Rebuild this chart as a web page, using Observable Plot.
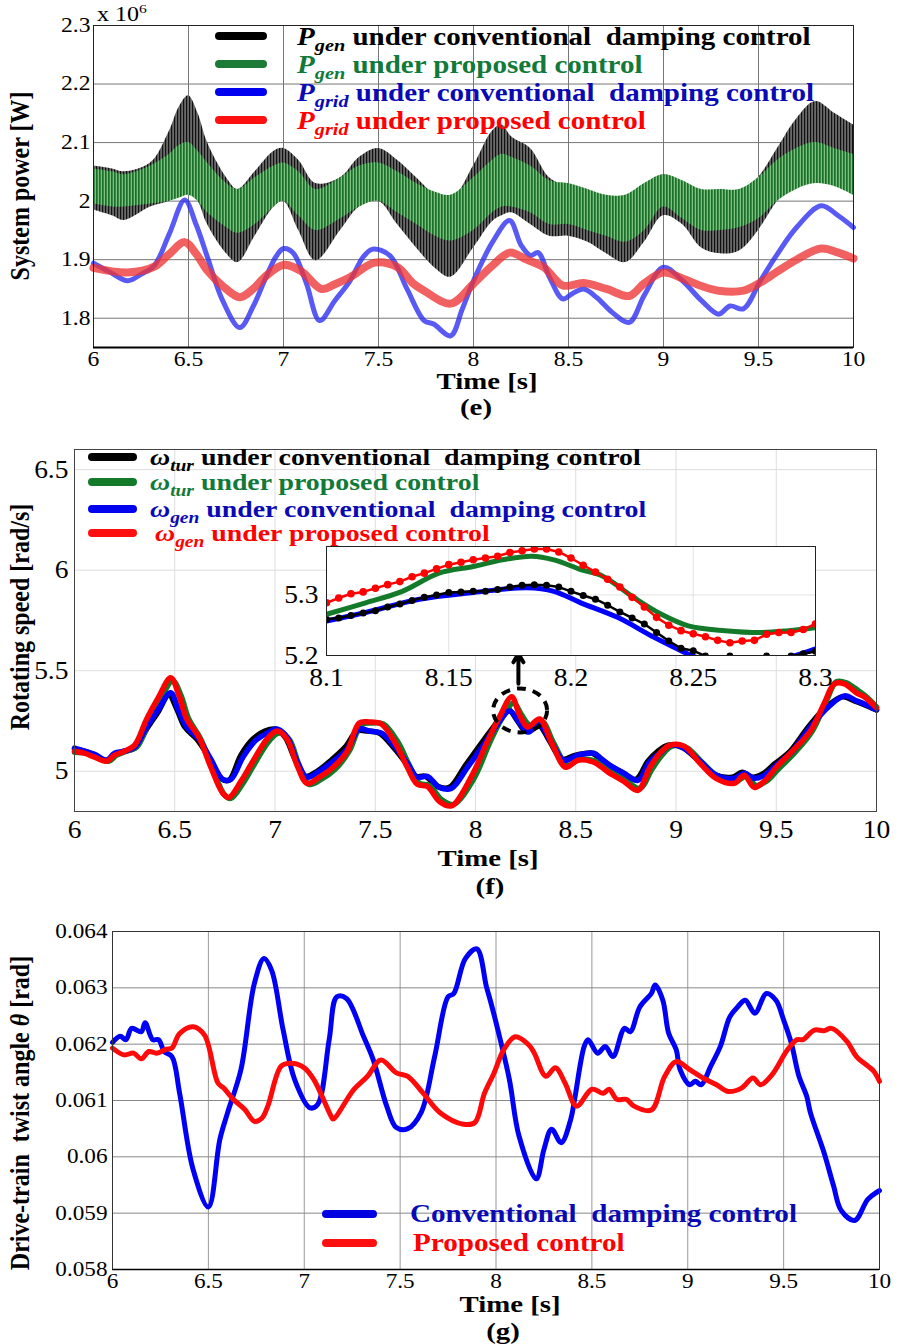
<!DOCTYPE html>
<html><head><meta charset="utf-8">
<script src="https://cdn.jsdelivr.net/npm/d3@7"></script>
<script src="https://cdn.jsdelivr.net/npm/@observablehq/plot@0.6"></script>
<style>
body{margin:0;background:#fff;}
#root{position:relative;width:899px;height:1344px;overflow:hidden;font-family:"Liberation Serif","DejaVu Serif","Noto Serif",Times,serif;background:#fff;}
#root svg, #root svg text{font-family:"Liberation Serif","DejaVu Serif","Noto Serif",Times,serif !important;}
.pw{position:absolute;left:0;}
.lbl{position:absolute;font-weight:bold;white-space:nowrap;transform:translate(-50%,-50%) scaleX(1.2);line-height:1;}
.ylbl{position:absolute;font-weight:bold;white-space:nowrap;transform:translate(-50%,-50%) rotate(-90deg) scaleY(1.15);line-height:1;}
.leg{position:absolute;font-weight:bold;white-space:nowrap;line-height:1;transform-origin:0 50%;}
.sw{position:absolute;border-radius:4px;}
.leg sub{font-size:0.7em;vertical-align:-0.35em;line-height:0;}
</style></head><body><div id="root"></div>
<script>
// ---------- shared ----------
const xTicks = [6, 6.5, 7, 7.5, 8, 8.5, 9, 9.5, 10];

// ---------- panel (e): system power (x 10^6 W) ----------
const eTicksY = [1.8, 1.9, 2, 2.1, 2.2, 2.3];
const eBandT = [6.0,6.1,6.16,6.3,6.4,6.45,6.5,6.55,6.6,6.7,6.76,6.85,6.95,7.0,7.08,7.17,7.3,7.4,7.5,7.6,7.7,7.8,7.88,8.0,8.1,8.15,8.2,8.3,8.4,8.5,8.6,8.7,8.8,8.9,9.0,9.1,9.2,9.3,9.4,9.5,9.6,9.7,9.8,9.9,10.0];
const ePgenConvHi = [2.06,2.055,2.05,2.065,2.12,2.16,2.18,2.15,2.10,2.04,2.02,2.05,2.085,2.09,2.07,2.03,2.04,2.075,2.09,2.07,2.04,2.01,2.0,2.06,2.12,2.13,2.11,2.09,2.04,2.025,2.02,2.0,1.995,2.02,2.045,2.03,2.015,2.005,2.01,2.04,2.09,2.14,2.17,2.15,2.13];
const ePgenConvLo = [1.985,1.975,1.967,1.99,2.0,2.01,2.015,2.0,1.96,1.91,1.895,1.94,1.99,2.0,1.95,1.898,1.95,1.99,2.0,1.96,1.92,1.885,1.87,1.92,1.965,1.975,1.98,1.96,1.94,1.94,1.93,1.91,1.895,1.93,1.975,1.96,1.92,1.91,1.915,1.95,2.0,2.035,2.05,2.04,2.03];
const ePgenPropHi = [2.055,2.05,2.045,2.06,2.08,2.095,2.10,2.085,2.065,2.03,2.02,2.04,2.06,2.065,2.05,2.02,2.04,2.06,2.065,2.05,2.03,2.015,2.01,2.04,2.07,2.08,2.075,2.06,2.035,2.03,2.02,2.01,2.01,2.03,2.045,2.035,2.02,2.02,2.02,2.04,2.07,2.09,2.10,2.09,2.08];
const ePgenPropLo = [1.995,1.99,1.99,1.995,2.0,2.005,2.01,2.0,1.98,1.955,1.945,1.96,1.99,2.0,1.975,1.95,1.97,1.99,2.0,1.98,1.96,1.94,1.932,1.95,1.98,1.99,1.99,1.98,1.96,1.96,1.95,1.94,1.93,1.95,1.99,1.97,1.95,1.95,1.955,1.97,2.0,2.02,2.03,2.025,2.01];
const ePgridConvT = [6.0,6.08,6.18,6.25,6.32,6.4,6.48,6.54,6.6,6.68,6.77,6.84,6.9,6.96,7.0,7.05,7.12,7.19,7.27,7.35,7.42,7.47,7.56,7.65,7.74,7.79,7.88,7.94,8.0,8.1,8.19,8.25,8.3,8.34,8.4,8.47,8.52,8.58,8.65,8.73,8.82,8.9,9.0,9.1,9.2,9.29,9.35,9.42,9.51,9.6,9.7,9.83,9.92,10.0];
const ePgridConvP = [1.894,1.880,1.864,1.875,1.890,1.945,2.002,1.96,1.904,1.83,1.784,1.82,1.864,1.905,1.919,1.912,1.86,1.796,1.83,1.864,1.905,1.918,1.907,1.85,1.796,1.79,1.77,1.815,1.864,1.93,1.967,1.925,1.907,1.912,1.87,1.833,1.842,1.850,1.835,1.81,1.793,1.84,1.887,1.864,1.83,1.807,1.821,1.816,1.864,1.91,1.955,1.992,1.975,1.955];
const ePgridPropT = [6.0,6.18,6.32,6.4,6.48,6.54,6.6,6.68,6.77,6.84,6.9,7.0,7.09,7.2,7.27,7.35,7.48,7.6,7.68,7.74,7.88,8.0,8.1,8.19,8.28,8.37,8.47,8.58,8.7,8.82,8.9,9.0,9.1,9.2,9.29,9.42,9.51,9.6,9.7,9.83,9.92,10.0];
const ePgridPropP = [1.886,1.878,1.888,1.91,1.930,1.91,1.881,1.855,1.836,1.85,1.870,1.891,1.881,1.850,1.858,1.870,1.895,1.887,1.86,1.847,1.825,1.859,1.89,1.912,1.90,1.887,1.856,1.860,1.85,1.838,1.86,1.878,1.868,1.855,1.847,1.847,1.861,1.88,1.90,1.919,1.912,1.902];

// ---------- panel (f): rotating speed (rad/s) ----------
const fTicksY = [5, 5.5, 6, 6.5];
const fTurConvT = [6.00,6.05,6.10,6.16,6.20,6.25,6.30,6.36,6.42,6.47,6.51,6.55,6.61,6.67,6.73,6.77,6.83,6.89,6.95,7.00,7.05,7.10,7.15,7.21,7.28,7.35,7.41,7.46,7.52,7.59,7.65,7.70,7.75,7.81,7.87,7.95,8.03,8.09,8.16,8.21,8.25,8.31,8.37,8.43,8.50,8.58,8.62,8.66,8.73,8.80,8.86,8.91,8.96,9.03,9.11,9.19,9.28,9.33,9.38,9.43,9.49,9.57,9.66,9.75,9.83,9.89,9.93,10.0];
const fTurConvW = [5.11,5.10,5.08,5.055,5.085,5.10,5.115,5.21,5.30,5.38,5.31,5.22,5.16,5.07,4.965,4.955,5.08,5.16,5.20,5.21,5.17,5.06,4.975,5.00,5.055,5.12,5.20,5.20,5.19,5.12,5.045,4.975,4.975,4.925,4.92,5.03,5.14,5.22,5.31,5.25,5.20,5.235,5.15,5.06,5.08,5.09,5.065,5.035,4.995,4.96,5.05,5.10,5.13,5.12,5.055,4.985,4.97,4.995,4.97,4.985,5.035,5.10,5.22,5.32,5.37,5.35,5.335,5.305];
const fTurPropT = [6.00,6.06,6.10,6.17,6.21,6.26,6.31,6.37,6.43,6.49,6.53,6.57,6.63,6.69,6.75,6.78,6.84,6.90,6.97,7.02,7.07,7.12,7.17,7.23,7.30,7.37,7.43,7.48,7.54,7.61,7.67,7.72,7.77,7.83,7.89,7.99,8.07,8.13,8.19,8.23,8.27,8.33,8.39,8.46,8.52,8.60,8.64,8.67,8.75,8.82,8.88,8.93,8.98,9.05,9.13,9.21,9.30,9.35,9.40,9.45,9.51,9.59,9.68,9.75,9.80,9.85,9.91,9.95,10.0];
const fTurPropW = [5.095,5.09,5.075,5.05,5.08,5.10,5.12,5.24,5.36,5.45,5.38,5.26,5.16,5.01,4.88,4.865,4.94,5.04,5.15,5.19,5.16,5.03,4.935,4.96,5.01,5.10,5.23,5.24,5.235,5.15,5.03,4.94,4.93,4.86,4.835,4.96,5.14,5.26,5.34,5.28,5.23,5.25,5.14,5.03,5.06,5.05,5.03,5.005,4.955,4.915,5.01,5.08,5.125,5.12,5.045,4.975,4.95,4.975,4.93,4.95,5.01,5.09,5.20,5.35,5.445,5.44,5.40,5.37,5.32];
const fGenConvT = [6.00,6.05,6.10,6.16,6.20,6.25,6.30,6.36,6.42,6.48,6.52,6.56,6.62,6.68,6.74,6.78,6.84,6.90,6.96,7.01,7.06,7.11,7.16,7.22,7.29,7.36,7.42,7.47,7.53,7.60,7.66,7.71,7.76,7.82,7.88,7.96,8.04,8.10,8.17,8.22,8.26,8.32,8.38,8.44,8.51,8.59,8.63,8.67,8.74,8.81,8.87,8.92,8.97,9.04,9.12,9.20,9.29,9.34,9.39,9.44,9.50,9.58,9.67,9.76,9.84,9.90,9.94,10.0];
const fGenConvW = [5.115,5.10,5.085,5.055,5.09,5.10,5.12,5.22,5.31,5.39,5.30,5.22,5.16,5.06,4.96,4.96,5.07,5.15,5.19,5.21,5.17,5.05,4.97,5.00,5.05,5.11,5.21,5.20,5.19,5.12,5.04,4.97,4.975,4.92,4.915,5.02,5.13,5.22,5.30,5.24,5.195,5.23,5.14,5.055,5.08,5.09,5.06,5.03,4.99,4.955,5.05,5.09,5.13,5.115,5.05,4.98,4.965,4.99,4.965,4.98,5.03,5.10,5.22,5.32,5.375,5.35,5.335,5.305];
const fGenPropT = [6.00,6.05,6.10,6.16,6.20,6.25,6.30,6.36,6.42,6.48,6.52,6.56,6.62,6.68,6.74,6.77,6.83,6.89,6.96,7.01,7.06,7.11,7.16,7.22,7.29,7.36,7.42,7.47,7.53,7.60,7.66,7.71,7.76,7.82,7.88,7.98,8.06,8.12,8.18,8.22,8.26,8.32,8.38,8.45,8.51,8.59,8.63,8.66,8.74,8.81,8.87,8.92,8.97,9.04,9.12,9.20,9.29,9.34,9.39,9.44,9.50,9.58,9.67,9.74,9.79,9.84,9.90,9.94,10.0];
const fGenPropW = [5.10,5.09,5.07,5.05,5.08,5.10,5.13,5.26,5.37,5.465,5.38,5.26,5.17,5.02,4.89,4.87,4.95,5.05,5.16,5.20,5.16,5.03,4.94,4.97,5.02,5.10,5.24,5.245,5.235,5.14,5.02,4.935,4.925,4.85,4.828,4.975,5.15,5.27,5.37,5.28,5.22,5.26,5.14,5.02,5.055,5.045,5.02,4.997,4.95,4.905,5.02,5.09,5.13,5.125,5.04,4.965,4.94,4.98,4.92,4.95,5.02,5.10,5.20,5.34,5.435,5.435,5.39,5.37,5.315];

// inset (zoom 8.1 - 8.3 s)
const insTicksX = [8.1, 8.15, 8.2, 8.25, 8.3];
const insTicksY = [5.2, 5.3];
const insDotT = [8.100,8.105,8.110,8.115,8.120,8.125,8.130,8.135,8.140,8.145,8.150,8.155,8.160,8.165,8.170,8.175,8.180,8.185,8.190,8.195,8.200,8.205,8.210,8.215,8.220,8.225,8.230,8.235,8.240,8.245,8.250,8.255,8.260,8.265,8.270,8.275,8.280,8.285,8.290,8.295,8.300];
const insGenPropW = [5.287,5.295,5.302,5.305,5.311,5.317,5.322,5.330,5.336,5.343,5.350,5.354,5.358,5.361,5.364,5.370,5.373,5.376,5.376,5.371,5.361,5.349,5.338,5.326,5.313,5.296,5.280,5.263,5.250,5.241,5.236,5.231,5.225,5.221,5.224,5.225,5.235,5.238,5.238,5.243,5.252];
const insTurConvW = [5.260,5.262,5.266,5.270,5.274,5.280,5.285,5.291,5.296,5.300,5.304,5.305,5.306,5.306,5.309,5.313,5.316,5.317,5.316,5.313,5.306,5.299,5.293,5.283,5.272,5.262,5.252,5.238,5.224,5.212,5.208,5.199,5.193,5.199,5.190,5.188,5.199,5.190,5.199,5.203,5.207];
const insTurPropT = [8.100,8.116,8.131,8.146,8.160,8.172,8.184,8.193,8.204,8.213,8.226,8.237,8.248,8.263,8.278,8.289,8.300];
const insTurPropW = [5.268,5.287,5.306,5.336,5.347,5.358,5.364,5.358,5.342,5.331,5.295,5.268,5.249,5.241,5.238,5.241,5.246];
const insGenConvT = [8.100,8.116,8.138,8.160,8.182,8.193,8.204,8.219,8.234,8.245,8.252,8.270,8.289,8.300];
const insGenConvW = [5.257,5.271,5.293,5.304,5.312,5.306,5.287,5.263,5.230,5.208,5.196,5.185,5.197,5.211];

// ---------- panel (g): drive-train twist angle (rad) ----------
const gTicksY = [0.058, 0.059, 0.06, 0.061, 0.062, 0.063, 0.064];
const gConvT = [6.00,6.04,6.07,6.10,6.15,6.17,6.21,6.24,6.27,6.31,6.35,6.42,6.50,6.56,6.60,6.67,6.74,6.79,6.83,6.89,6.95,7.03,7.07,7.13,7.17,7.22,7.31,7.36,7.43,7.48,7.54,7.61,7.68,7.75,7.78,7.84,7.90,7.95,7.97,8.01,8.07,8.12,8.21,8.25,8.29,8.34,8.39,8.41,8.46,8.48,8.53,8.57,8.61,8.67,8.70,8.75,8.81,8.83,8.87,8.90,8.94,8.96,9.01,9.04,9.07,9.12,9.17,9.22,9.26,9.30,9.35,9.41,9.46,9.50,9.54,9.58,9.62,9.64,9.71,9.76,9.80,9.87,9.94,10.0];
const gConvTheta = [0.06203,0.06214,0.06208,0.06228,0.06222,0.06238,0.06208,0.06208,0.06187,0.06178,0.06113,0.05978,0.05911,0.06031,0.06078,0.06155,0.06308,0.06352,0.06331,0.06225,0.06137,0.06087,0.06093,0.06208,0.06284,0.06281,0.06213,0.06172,0.0609,0.06052,0.0605,0.06079,0.06178,0.06284,0.0629,0.06352,0.06369,0.06302,0.06278,0.06225,0.06137,0.06037,0.05961,0.06013,0.06049,0.06025,0.06067,0.06102,0.06196,0.06208,0.06184,0.06196,0.06178,0.06228,0.06222,0.06266,0.0629,0.06305,0.06278,0.0622,0.0619,0.06155,0.06128,0.06134,0.06128,0.06161,0.06196,0.06249,0.06266,0.06278,0.06255,0.0629,0.06278,0.06243,0.06202,0.06143,0.06108,0.06078,0.06008,0.05949,0.05905,0.05887,0.05925,0.0594];
const gPropT = [6.00,6.06,6.11,6.15,6.19,6.23,6.28,6.31,6.35,6.42,6.48,6.55,6.58,6.63,6.69,6.74,6.78,6.81,6.88,6.93,7.00,7.05,7.14,7.15,7.26,7.33,7.40,7.48,7.54,7.62,7.71,7.83,7.89,7.94,7.99,8.04,8.10,8.17,8.20,8.26,8.31,8.36,8.42,8.50,8.56,8.59,8.63,8.68,8.72,8.81,8.88,8.94,9.01,9.08,9.15,9.21,9.28,9.34,9.38,9.44,9.52,9.57,9.60,9.66,9.71,9.75,9.83,9.88,9.94,9.97,10.0];
const gPropTheta = [0.06193,0.06181,0.06184,0.06174,0.06187,0.06184,0.06191,0.06193,0.06219,0.06231,0.06216,0.06131,0.06122,0.06102,0.06084,0.06063,0.06069,0.0609,0.06161,0.06166,0.06158,0.06137,0.06072,0.06067,0.0612,0.06143,0.06172,0.06149,0.06143,0.06113,0.06078,0.06058,0.06061,0.06113,0.06149,0.0619,0.06213,0.06199,0.06184,0.06143,0.06158,0.06131,0.0609,0.0612,0.06113,0.0612,0.06102,0.06102,0.0609,0.06083,0.06143,0.06169,0.06155,0.0614,0.06128,0.06116,0.06122,0.0614,0.06128,0.06146,0.0619,0.06208,0.06208,0.06225,0.06224,0.06228,0.06205,0.06178,0.06161,0.06152,0.06134];

// ---------- helpers ----------
const rows = (t, v) => t.map((x, i) => ({t: x, v: v[i]}));
const band = (t, lo, hi) => t.map((x, i) => ({t: x, lo: lo[i], hi: hi[i]}));
const root = document.getElementById("root");
const NS = "http://www.w3.org/2000/svg";
const FONT = "'Liberation Serif', 'DejaVu Serif', 'Noto Serif', Times, serif";

function place(svg, top) {
  const d = document.createElement("div");
  d.className = "pw"; d.style.top = top + "px";
  d.appendChild(svg); root.appendChild(d);
  return svg;
}
function addPattern(svg, id, base, line, period, lw) {
  let defs = svg.querySelector("defs");
  if (!defs) { defs = document.createElementNS(NS, "defs"); svg.insertBefore(defs, svg.firstChild); }
  const p = document.createElementNS(NS, "pattern");
  p.setAttribute("id", id); p.setAttribute("patternUnits", "userSpaceOnUse");
  p.setAttribute("width", period); p.setAttribute("height", 8);
  const r1 = document.createElementNS(NS, "rect");
  r1.setAttribute("width", period); r1.setAttribute("height", 8); r1.setAttribute("fill", base);
  const r2 = document.createElementNS(NS, "rect");
  r2.setAttribute("width", lw); r2.setAttribute("height", 8); r2.setAttribute("fill", line);
  p.appendChild(r1); p.appendChild(r2); defs.appendChild(p);
}
function swapFill(svg, from, to) {
  svg.querySelectorAll(`[fill="${from}"]`).forEach(e => e.setAttribute("fill", to));
}
// widen tick-label glyphs horizontally around their anchor (reference type is horizontally stretched)
function stretch(svg, k) {
  svg.querySelectorAll("text").forEach(t => {
    const xa = t.getAttribute("x");
    const ax = (xa !== null && xa !== "" && !isNaN(+xa)) ? +xa : 0;
    const tr = t.getAttribute("transform") || "";
    t.setAttribute("transform", `${tr} translate(${ax},0) scale(${k},1) translate(${-ax},0)`.trim());
  });
}
function html(cls, x, y, content, style) {
  const d = document.createElement("div");
  d.className = cls; d.style.left = x + "px"; d.style.top = y + "px";
  d.innerHTML = content; Object.assign(d.style, style || {});
  root.appendChild(d); return d;
}
function legendRow(x1, x2, tx, y, color, textColor, content, fs, k) {
  const s = document.createElement("div");
  s.className = "sw";
  Object.assign(s.style, {left: x1 + "px", top: (y - 4) + "px", width: (x2 - x1) + "px", height: "8px", background: color});
  root.appendChild(s);
  html("leg", tx, y, content, {color: textColor, fontSize: fs + "px", transform: `translateY(-50%) scaleX(${k})`});
}
const fmt = d => String(d);

// ---------- panel (e) ----------
const svgE = Plot.plot({
  width: 899, height: 420,
  marginLeft: 93, marginRight: 46, marginTop: 25, marginBottom: 73,
  style: {fontFamily: FONT, fontSize: "20px", color: "#000", background: "transparent"},
  x: {domain: [6, 10]},
  y: {domain: [1.75, 2.3]},
  marks: [
    Plot.gridX(xTicks, {stroke: "#777", strokeOpacity: 1}),
    Plot.gridY(eTicksY, {stroke: "#777", strokeOpacity: 1}),
    Plot.areaY(band(eBandT, ePgenConvLo, ePgenConvHi), {x: "t", y1: "lo", y2: "hi", fill: "#010101", curve: "catmull-rom"}),
    Plot.areaY(band(eBandT, ePgenPropLo, ePgenPropHi), {x: "t", y1: "lo", y2: "hi", fill: "#020202", curve: "catmull-rom"}),
    Plot.line(rows(ePgridConvT, ePgridConvP), {x: "t", y: "v", stroke: "#2a2af0", strokeOpacity: 0.78, strokeWidth: 5, curve: "catmull-rom"}),
    Plot.line(rows(ePgridPropT, ePgridPropP), {x: "t", y: "v", stroke: "#ee3434", strokeOpacity: 0.78, strokeWidth: 8, curve: "catmull-rom"}),
    Plot.frame({stroke: "#222"}),
    Plot.ruleY([1.75], {stroke: "#000", strokeWidth: 2}),
    Plot.axisX(xTicks, {tickSize: 0, tickPadding: 4, tickFormat: fmt, label: null, fontSize: 20}),
    Plot.axisY(eTicksY, {tickSize: 0, tickPadding: 3, tickFormat: fmt, label: null, fontSize: 20})
  ]
});
addPattern(svgE, "hatchK", "#6a6a6a", "#111", 3, 1.2);
addPattern(svgE, "hatchG", "#7cc27c", "#1c6e2c", 3, 1.7);
swapFill(svgE, "#010101", "url(#hatchK)");
swapFill(svgE, "#020202", "url(#hatchG)");
stretch(svgE, 1.18);
place(svgE, 0);

// ---------- panel (f) ----------
const svgF = Plot.plot({
  width: 899, height: 480,
  marginLeft: 74, marginRight: 23, marginTop: 29, marginBottom: 89,
  style: {fontFamily: FONT, fontSize: "25px", color: "#000", background: "transparent"},
  x: {domain: [6, 10]},
  y: {domain: [4.8, 6.6]},
  marks: [
    Plot.gridX(xTicks, {stroke: "#ddd", strokeOpacity: 1}),
    Plot.gridY(fTicksY, {stroke: "#ddd", strokeOpacity: 1}),
    Plot.line(rows(fTurConvT, fTurConvW), {x: "t", y: "v", stroke: "#000", strokeWidth: 5.5, curve: "catmull-rom"}),
    Plot.line(rows(fTurPropT, fTurPropW), {x: "t", y: "v", stroke: "#137a2a", strokeWidth: 5.5, curve: "catmull-rom"}),
    Plot.line(rows(fGenConvT, fGenConvW), {x: "t", y: "v", stroke: "#0000ff", strokeWidth: 5.5, curve: "catmull-rom"}),
    Plot.line(rows(fGenPropT, fGenPropW), {x: "t", y: "v", stroke: "#ff0000", strokeWidth: 5.5, curve: "catmull-rom"}),
    Plot.arrow({length: 1}, {x1: () => 8.214, x2: () => 8.214, y1: () => 5.435, y2: () => 5.585, stroke: "#000", strokeWidth: 4, headLength: 9}),
    Plot.frame({stroke: "#444"}),
    Plot.axisX(xTicks, {tickSize: 0, tickPadding: 9, tickFormat: fmt, label: null, fontSize: 25}),
    Plot.axisY(fTicksY, {tickSize: 0, tickPadding: 6, tickFormat: fmt, label: null, fontSize: 25})
  ]
});
{
  const sx = svgF.scale("x"), sy = svgF.scale("y");
  const e = document.createElementNS(NS, "ellipse");
  e.setAttribute("cx", sx.apply(8.225)); e.setAttribute("cy", sy.apply(5.30));
  e.setAttribute("rx", 27); e.setAttribute("ry", 22);
  e.setAttribute("fill", "none"); e.setAttribute("stroke", "#000");
  e.setAttribute("stroke-width", 4); e.setAttribute("stroke-dasharray", "9 7");
  svgF.appendChild(e);
}
stretch(svgF, 1.1);
place(svgF, 420);

// ---------- inset ----------
const svgI = Plot.plot({
  width: 899, height: 480,
  marginLeft: 326, marginRight: 84, marginTop: 126, marginBottom: 245,
  style: {fontFamily: FONT, fontSize: "25px", color: "#000", background: "transparent"},
  x: {domain: [8.1, 8.3]},
  y: {domain: [5.2, 5.38]},
  marks: [
    Plot.frame({fill: "#fff", stroke: null}),
    Plot.gridX([8.15, 8.2, 8.25], {stroke: "#e2e2e2", strokeOpacity: 1}),
    Plot.gridY([5.3], {stroke: "#e2e2e2", strokeOpacity: 1}),
    Plot.line(rows(insGenConvT, insGenConvW), {x: "t", y: "v", stroke: "#0000ff", strokeWidth: 5, curve: "catmull-rom", clip: true}),
    Plot.line(rows(insDotT, insTurConvW), {x: "t", y: "v", stroke: "#000", strokeWidth: 2.5, clip: true}),
    Plot.dot(rows(insDotT, insTurConvW), {x: "t", y: "v", fill: "#000", r: 3.5, clip: true}),
    Plot.line(rows(insTurPropT, insTurPropW), {x: "t", y: "v", stroke: "#137a2a", strokeWidth: 5, curve: "catmull-rom", clip: true}),
    Plot.line(rows(insDotT, insGenPropW), {x: "t", y: "v", stroke: "#ff0000", strokeWidth: 2.5, clip: true}),
    Plot.dot(rows(insDotT, insGenPropW), {x: "t", y: "v", fill: "#ff0000", r: 3.8, clip: true}),
    Plot.frame({stroke: "#222"}),
    Plot.axisX(insTicksX, {tickSize: 0, tickPadding: 13, tickFormat: fmt, label: null, fontSize: 25}),
    Plot.axisY(insTicksY, {tickSize: 0, tickPadding: 8, tickFormat: fmt, label: null, fontSize: 25})
  ]
});
stretch(svgI, 1.1);
place(svgI, 420).style.pointerEvents = "none";

// ---------- panel (g) ----------
const svgG = Plot.plot({
  width: 899, height: 444,
  marginLeft: 112, marginRight: 20, marginTop: 31, marginBottom: 75,
  style: {fontFamily: FONT, fontSize: "20px", color: "#000", background: "transparent"},
  x: {domain: [6, 10]},
  y: {domain: [0.058, 0.064]},
  marks: [
    Plot.gridX(xTicks, {stroke: "#999", strokeOpacity: 1}),
    Plot.gridY(gTicksY, {stroke: "#888", strokeOpacity: 1}),
    Plot.line(rows(gConvT, gConvTheta), {x: "t", y: "v", stroke: "#0000f5", strokeWidth: 5, curve: "catmull-rom"}),
    Plot.line(rows(gPropT, gPropTheta), {x: "t", y: "v", stroke: "#ff0a0a", strokeWidth: 5, curve: "catmull-rom"}),
    Plot.frame({stroke: "#333"}),
    Plot.ruleY([0.058], {stroke: "#000", strokeWidth: 1.5}),
    Plot.axisX(xTicks, {tickSize: 0, tickPadding: 4, tickFormat: fmt, label: null, fontSize: 20}),
    Plot.axisY(gTicksY, {tickSize: 0, tickPadding: 5, tickFormat: fmt, label: null, fontSize: 20})
  ]
});
stretch(svgG, 1.16);
place(svgG, 900);

// ---------- text: labels and legends ----------
html("lbl", 122, 13, "x 10<sup style='font-size:0.65em'>6</sup>", {fontWeight: "normal", fontSize: "20px"});
html("ylbl", 20, 186, "System power [W]", {fontSize: "24px"});
html("lbl", 487, 381, "Time [s]", {fontSize: "24px"});
html("lbl", 476, 407, "(e)", {fontSize: "24px"});

html("ylbl", 20, 617, "Rotating speed [rad/s]", {fontSize: "24px"});
html("lbl", 488, 858, "Time [s]", {fontSize: "24px"});
html("lbl", 490, 886, "(f)", {fontSize: "24px"});

html("ylbl", 20, 1113, "Drive-train&nbsp; twist angle <i>θ</i> [rad]", {fontSize: "24px"});
html("lbl", 510, 1304, "Time [s]", {fontSize: "24px"});
html("lbl", 503, 1331, "(g)", {fontSize: "24px"});

// legend (e)
legendRow(215, 267, 297, 36, "#000", "#000", "<i>P</i><sub><i>gen</i></sub> under conventional&nbsp; damping control", 25, 1.16);
legendRow(215, 267, 297, 64, "#1a7a36", "#117a3a", "<i>P</i><sub><i>gen</i></sub> under proposed control", 25, 1.16);
legendRow(215, 267, 297, 92, "#0000f0", "#0a0ab4", "<i>P</i><sub><i>grid</i></sub> under conventional&nbsp; damping control", 25, 1.16);
legendRow(215, 267, 297, 120, "#ff1010", "#ff0000", "<i>P</i><sub><i>grid</i></sub> under proposed control", 25, 1.16);

// legend (f)
legendRow(88, 137, 150, 457, "#000", "#000", "<i>ω</i><sub><i>tur</i></sub> under conventional&nbsp; damping control", 24, 1.16);
legendRow(88, 137, 150, 482, "#137a2a", "#117a3a", "<i>ω</i><sub><i>tur</i></sub> under proposed control", 24, 1.16);
legendRow(88, 137, 150, 509, "#0000f0", "#0a0ab4", "<i>ω</i><sub><i>gen</i></sub> under conventional&nbsp; damping control", 24, 1.16);
legendRow(88, 137, 155, 533, "#ff1010", "#ff0000", "<i>ω</i><sub><i>gen</i></sub> under proposed control", 24, 1.16);

// legend (g)
legendRow(322, 377, 410, 1214, "#0000e0", "#0a0ab4", "Conventional&nbsp; damping control", 26, 1.12);
legendRow(322, 377, 413, 1243, "#ff1010", "#ff0000", "Proposed control", 26, 1.12);
</script></body></html>
